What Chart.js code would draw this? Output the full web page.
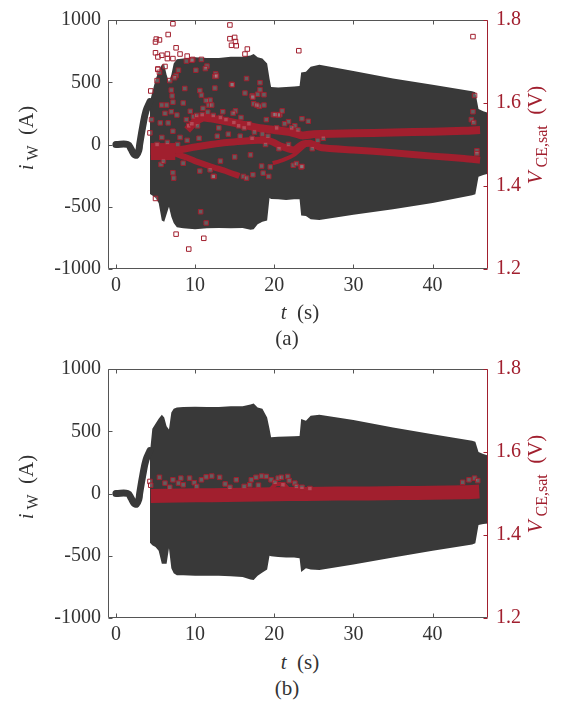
<!DOCTYPE html>
<html>
<head>
<meta charset="utf-8">
<title>i_W and V_CE,sat</title>
<script src="https://cdn.jsdelivr.net/npm/chart.js@4.4.1/dist/chart.umd.min.js"></script>
<style>
  body { margin: 0; background: #fff; }
  #page { position: relative; width: 569px; height: 708px; overflow: hidden;
          font-family: "Liberation Serif", "DejaVu Serif", serif; }
  canvas { position: absolute; left: 0; }
  .lbl { position: absolute; transform: translate(-50%, -50%); font-size: 21px;
         color: #333; white-space: nowrap; line-height: 1; }
  .rot { transform: translate(-50%, -50%) rotate(-90deg); }
  .red { color: #a11f2e; }
  .sub { font-size: 16px; vertical-align: -5px; }
</style>
</head>
<body>
<div id="page">
  <canvas id="chartA" width="569" height="300" style="top:0"></canvas>
  <canvas id="chartB" width="569" height="300" style="top:349px"></canvas>

  <!-- panel (a) titles -->
  <div class="lbl rot" style="left:28px;top:138px"><i>i</i><span class="sub"> W</span>&nbsp;&nbsp;(A)</div>
  <div class="lbl rot red" style="left:537px;top:135px"><i>V</i><span class="sub"> CE,sat</span>&nbsp;&nbsp;(V)</div>
  <div class="lbl" style="left:300px;top:312px"><i>t</i>&nbsp;&nbsp;(s)</div>
  <div class="lbl" style="left:287px;top:338px">(a)</div>

  <!-- panel (b) titles -->
  <div class="lbl rot" style="left:28px;top:487px"><i>i</i><span class="sub"> W</span>&nbsp;&nbsp;(A)</div>
  <div class="lbl rot red" style="left:537px;top:484px"><i>V</i><span class="sub"> CE,sat</span>&nbsp;&nbsp;(V)</div>
  <div class="lbl" style="left:300px;top:662px"><i>t</i>&nbsp;&nbsp;(s)</div>
  <div class="lbl" style="left:287px;top:688px">(b)</div>
</div>

<script>
/* ================= DATA ================= */
const xTicks = [0, 10, 20, 30, 40];
const iTicks = [-1000, -500, 0, 500, 1000];
const vTicks = [1.2, 1.4, 1.6, 1.8];

// start-up transient of i_W (same in both runs)
const startT = [0, 1.5, 1.9, 2.3, 2.6, 2.9, 3.0, 3.4, 3.8, 4.3];
const startI = [0, 0, -35, -80, -85, -45, 0, 150, 270, 345];

// envelope of the fast i_W oscillation (time points shared by both runs)
const envT = [4.3, 4.6, 5.0, 5.4, 5.8, 6.1, 6.4, 6.7, 7.0, 7.3, 7.7, 8.5, 10, 11.5, 13, 14.5, 16, 17.0, 17.4, 17.9,
              18.5, 19.1, 19.4, 19.6, 20.5, 21.5, 22.5, 23.2, 23.4, 24.0, 24.6, 25.7, 30, 35, 40, 45.0, 45.4, 45.8, 46.4, 47];
const upperA = [345, 420, 520, 590, 640, 645, 560, 505, 560, 650, 685, 690, 700, 695, 695, 705, 705, 715, 726, 700,
                690, 650, 530, 462, 458, 462, 465, 470, 578, 585, 625, 640, 590, 530, 480, 428, 420, 285, 268, 255];
const lowerA = [-398, -410, -430, -470, -610, -620, -560, -500, -580, -630, -665, -672, -680, -672, -670, -672, -670, -684, -680, -640,
                -620, -610, -430, -437, -440, -445, -440, -440, -570, -575, -600, -606, -565, -520, -470, -408, -400, -260, -245, -235];
const upperB = [330, 520, 560, 600, 633, 610, 541, 515, 650, 680, 690, 695, 697, 695, 695, 700, 700, 715, 722, 690,
                680, 610, 520, 452, 455, 458, 460, 462, 598, 585, 625, 633, 590, 530, 475, 424, 415, 333, 318, 305];
const lowerB = [-396, -415, -430, -460, -565, -565, -565, -440, -600, -640, -656, -656, -660, -660, -660, -665, -670, -690, -695, -660,
                -635, -610, -500, -505, -510, -515, -515, -520, -630, -600, -610, -615, -570, -515, -460, -410, -400, -253, -245, -240];

// dense V_CE,sat traces, run (a)  [t, V]
const blobA = [[4.4, 1.483], [7.5, 1.483]];
const midA = [[4.4, 1.484], [6, 1.484], [8, 1.487], [10, 1.494], [12, 1.5], [14, 1.505], [16, 1.508], [18, 1.51],
              [19.5, 1.508], [21, 1.495], [22.5, 1.487], [23.5, 1.5], [24.5, 1.503], [26, 1.492], [30, 1.487],
              [35, 1.48], [40, 1.472], [44, 1.466], [46, 1.462]];
const upA = [[9, 1.535], [10, 1.555], [11, 1.565], [12, 1.563], [14, 1.556], [16, 1.548], [18, 1.54], [20, 1.535],
             [22, 1.53], [23.5, 1.522], [25, 1.525], [30, 1.527], [35, 1.529], [40, 1.531], [44, 1.533], [46, 1.535]];
const lowA = [[7.5, 1.478], [9, 1.468], [10, 1.46], [12, 1.447], [14, 1.435], [15.6, 1.424]];
const crossA = [[19.8, 1.455], [21, 1.462], [22.5, 1.475], [24, 1.5]];

// scattered V_CE,sat samples, run (a)
const dotsA = [
  [7.2, 1.791], [6.6, 1.765], [5.1, 1.754], [5.5, 1.752], [5.0, 1.747], [7.6, 1.733], [5.0, 1.721], [5.8, 1.715],
  [5.3, 1.711], [6.5, 1.718], [6.5, 1.707], [7.2, 1.707], [8.1, 1.718], [9.0, 1.713], [9.7, 1.705], [5.3, 1.682],
  [5.5, 1.674], [5.2, 1.654], [4.4, 1.629], [14.4, 1.788], [14.4, 1.755], [15.0, 1.758], [15.1, 1.748], [14.6, 1.739],
  [15.2, 1.738], [16.6, 1.73], [16.3, 1.718], [23.1, 1.726], [45.1, 1.76],
  [6.2, 1.688], [7.9, 1.679], [8.9, 1.701], [9.6, 1.703], [10.8, 1.705], [11.5, 1.689], [11.3, 1.683], [10.1, 1.679],
  [7.6, 1.666], [6.8, 1.654], [12.6, 1.67], [12.5, 1.664], [8.7, 1.635], [7.0, 1.631], [7.1, 1.617], [10.8, 1.619],
  [12.5, 1.636], [11.9, 1.607], [11.7, 1.595], [14.6, 1.645], [16.3, 1.624], [18.2, 1.649], [17.9, 1.621], [17.2, 1.617],
  [18.7, 1.62], [17.4, 1.598], [18.1, 1.592], [19.9, 1.572], [20.7, 1.572], [21.0, 1.581], [16.5, 1.659], [14.7, 1.644],
  [18.2, 1.632], [17.3, 1.614], [17.8, 1.595], [18.7, 1.595], [15.1, 1.581], [14.8, 1.575], [20.5, 1.571], [20.1, 1.572],
  [7.4, 1.661], [5.3, 1.681],
  [5.8, 1.595], [6.4, 1.595], [7.2, 1.602], [8.5, 1.6], [6.2, 1.575], [7.0, 1.579], [7.7, 1.571], [5.6, 1.552],
  [6.6, 1.552], [8.9, 1.56], [9.8, 1.567], [11.0, 1.587], [12.1, 1.595], [13.5, 1.579], [11.4, 1.606], [4.5, 1.56],
  [4.3, 1.528], [7.2, 1.532], [8.1, 1.517], [5.8, 1.517], [10.6, 1.63], [12.7, 1.665], [9.4, 1.58], [10.3, 1.545],
  [13.0, 1.54], [15.8, 1.565], [16.8, 1.55], [19.0, 1.56], [21.8, 1.555], [22.6, 1.545], [23.5, 1.562], [24.3, 1.556],
  [45.3, 1.618], [45.1, 1.579], [44.9, 1.56], [45.2, 1.553], [45.6, 1.485], [45.6, 1.478],
  [9.2, 1.545], [9.6, 1.55], [10.2, 1.57], [10.9, 1.572], [11.6, 1.578], [12.3, 1.57], [13.2, 1.565], [13.9, 1.56],
  [14.9, 1.553], [15.5, 1.545], [16.2, 1.54], [17.5, 1.53], [18.5, 1.525], [19.2, 1.52], [20.3, 1.54], [21.3, 1.55],
  [22.2, 1.54], [23.0, 1.535], [9.0, 1.51], [10.5, 1.515], [12.8, 1.52], [14.2, 1.525], [15.7, 1.52], [17.2, 1.515],
  [18.9, 1.5], [20.6, 1.49], [21.8, 1.5], [6.5, 1.505], [7.8, 1.5], [5.2, 1.5], [24.8, 1.49], [25.5, 1.51], [26.2, 1.515],
  [5.7, 1.452], [7.2, 1.432], [7.3, 1.419], [5.0, 1.37], [10.7, 1.338], [11.4, 1.311], [7.6, 1.284], [11.1, 1.274],
  [9.2, 1.248], [12.4, 1.423], [16.1, 1.423], [16.5, 1.419], [17.3, 1.427], [18.6, 1.431], [19.3, 1.423], [18.4, 1.448],
  [19.5, 1.446], [22.4, 1.45], [22.8, 1.454], [23.4, 1.446], [10.6, 1.436], [11.9, 1.439], [12.3, 1.423], [23.5, 1.447],
  [13.2, 1.46], [15.0, 1.47], [17.0, 1.475], [6.0, 1.46], [8.5, 1.455]
];

// run (b): one tight trace plus a few samples above it
const mainB = [[4.4, 1.494], [8, 1.495], [12, 1.496], [16, 1.497], [20, 1.498], [24, 1.499], [28, 1.5], [32, 1.5],
               [36, 1.501], [40, 1.502], [44, 1.503], [45.9, 1.505]];
const loopB = [[19.3, 1.505], [20.2, 1.522], [21.2, 1.522], [22.0, 1.505]];
const dotsB = [
  [4.3, 1.529], [4.4, 1.52], [5.5, 1.539], [6.2, 1.525], [7.2, 1.533], [7.9, 1.525], [8.5, 1.521], [9.3, 1.537],
  [10.8, 1.533], [11.4, 1.54], [12.1, 1.542], [13.1, 1.539], [13.8, 1.523], [15.2, 1.533], [16.9, 1.521], [17.1, 1.533],
  [17.7, 1.539], [18.4, 1.542], [19.0, 1.541], [19.6, 1.533], [20.1, 1.527], [20.5, 1.537], [20.9, 1.539], [21.1, 1.521],
  [21.7, 1.541], [21.9, 1.531], [22.6, 1.525], [22.8, 1.517], [8.2, 1.537], [9.9, 1.526], [6.8, 1.515], [10.2, 1.517],
  [14.4, 1.515], [16.2, 1.517], [18.0, 1.52], [23.5, 1.515], [24.5, 1.512], [43.8, 1.527], [44.6, 1.533], [45.3, 1.537],
  [45.7, 1.531]
];

/* ================= STYLE ================= */
const RED = "#a11f2e";
const DARK = "#393939";
const AXIS = "#555";

Chart.defaults.font.family = '"Liberation Serif", "DejaVu Serif", serif';
Chart.defaults.font.size = 20;
Chart.defaults.color = "#333";

const pts = (xs, ys) => xs.map((x, k) => ({ x, y: ys[k] }));
const pairs = list => list.map(([x, y]) => ({ x, y }));

/* box with inward ticks, right side in red */
const frame = {
  id: "frame",
  afterDraw(chart) {
    const { ctx, chartArea: a, scales } = chart;
    const L = Math.round(a.left) + 0.5, R = Math.round(a.right) - 0.5;
    const T = Math.round(a.top) + 0.5, B = Math.round(a.bottom) - 0.5;
    ctx.save();
    ctx.lineWidth = 1;
    ctx.strokeStyle = AXIS;
    ctx.beginPath();
    ctx.moveTo(R, T); ctx.lineTo(L, T); ctx.lineTo(L, B); ctx.lineTo(R, B);
    for (const v of xTicks) {
      const px = Math.round(scales.x.getPixelForValue(v)) + 0.5;
      ctx.moveTo(px, B); ctx.lineTo(px, B - 4);
      ctx.moveTo(px, T); ctx.lineTo(px, T + 4);
    }
    for (const v of iTicks) {
      const py = Math.round(scales.y.getPixelForValue(v)) + 0.5;
      ctx.moveTo(L, py); ctx.lineTo(L + 4, py);
    }
    ctx.stroke();
    ctx.strokeStyle = RED;
    ctx.beginPath();
    ctx.moveTo(R, T); ctx.lineTo(R, B);
    for (const v of vTicks) {
      const py = Math.round(scales.v.getPixelForValue(v)) + 0.5;
      ctx.moveTo(R, py); ctx.lineTo(R - 4, py);
    }
    ctx.stroke();
    ctx.restore();
  }
};

/* ================= CHARTS ================= */
function makePanel(canvasId, upper, lower, bands, dots) {
  const datasets = [
    { data: pts(envT, upper), yAxisID: "y", borderWidth: 0, borderColor: "rgba(0,0,0,0)",
      pointRadius: 0, backgroundColor: DARK, fill: "+1", order: 5 },
    { data: pts(envT, lower), yAxisID: "y", borderWidth: 0, borderColor: "rgba(0,0,0,0)",
      pointRadius: 0, fill: false, order: 5 },
    { data: pts(startT, startI), yAxisID: "y", borderColor: DARK, borderWidth: 7,
      borderCapStyle: "round", borderJoinStyle: "round", pointRadius: 0, fill: false, tension: 0.4, order: 4 }
  ];
  for (const b of bands) {
    datasets.push({ data: pairs(b[0]), yAxisID: "v", borderColor: RED, borderWidth: b[1],
      borderCapStyle: "butt", pointRadius: 0, fill: false, tension: 0.2, order: 2 });
  }
  datasets.push({ data: pairs(dots), yAxisID: "v", showLine: false, pointStyle: "rect", pointRadius: 3.2,
    pointBorderWidth: 1, pointBorderColor: RED, pointBackgroundColor: "rgba(255,255,255,0.2)", order: 1 });

  return new Chart(document.getElementById(canvasId), {
    type: "line",
    data: { datasets },
    options: {
      responsive: false,
      animation: false,
      layout: { padding: { top: 12 } },
      plugins: { legend: { display: false }, tooltip: { enabled: false } },
      scales: {
        x: {
          type: "linear", min: -1, max: 47,
          afterBuildTicks: s => { s.ticks = xTicks.map(value => ({ value })); },
          afterFit: s => { s.height = 31; },
          grid: { display: false, drawTicks: false }, border: { display: false },
          ticks: { padding: 5, maxRotation: 0, callback: v => String(v) }
        },
        y: {
          position: "left", min: -1000, max: 1000,
          afterBuildTicks: s => { s.ticks = iTicks.map(value => ({ value })); },
          afterFit: s => { s.width = 108; },
          grid: { display: false, drawTicks: false }, border: { display: false },
          ticks: { padding: 7, callback: v => String(v) }
        },
        v: {
          position: "right", min: 1.2, max: 1.8,
          afterBuildTicks: s => { s.ticks = vTicks.map(value => ({ value })); },
          afterFit: s => { s.width = 81; },
          grid: { display: false, drawTicks: false }, border: { display: false },
          ticks: { padding: 8, color: RED, callback: v => v.toFixed(1) }
        }
      }
    },
    plugins: [frame]
  });
}

makePanel("chartA", upperA, lowerA,
  [[blobA, 17], [midA, 7], [upA, 8], [lowA, 6], [crossA, 4]], dotsA);
makePanel("chartB", upperB, lowerB,
  [[mainB, 14], [loopB, 4]], dotsB);
</script>
</body>
</html>
